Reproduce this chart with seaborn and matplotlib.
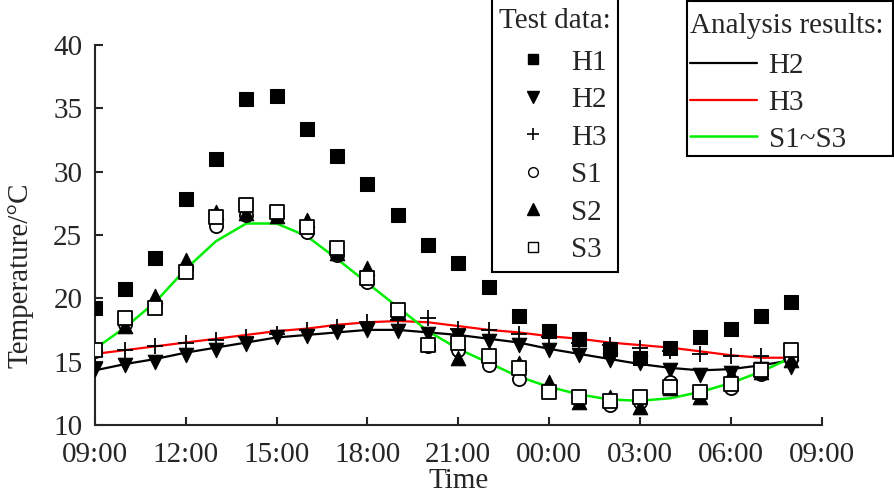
import matplotlib
matplotlib.use('Agg')
import matplotlib.pyplot as plt
from matplotlib.lines import Line2D
from matplotlib.offsetbox import DrawingArea
import seaborn as sns

# hours after 09:00 (one reading per hour)
hours = list(range(24))
tick_pos = [0, 3, 6, 9, 12, 15, 18, 21, 24]
tick_labels = ['09:00', '12:00', '15:00', '18:00', '21:00', '00:00', '03:00', '06:00', '09:00']

# test data
h1 = [19.2, 20.7, 23.2, 27.8, 31.0, 35.7, 36.0, 33.4, 31.2, 29.0, 26.6, 24.2,
      22.8, 20.9, 18.6, 17.4, 16.8, 16.0, 15.3, 16.1, 16.9, 17.6, 18.6, 19.7]
h2 = [14.4, 14.7, 15.0, 15.5, 15.9, 16.4, 16.9, 17.0, 17.3, 17.5, 17.4, 17.2,
      17.0, 16.6, 16.3, 15.9, 15.5, 15.1, 14.9, 14.3, 13.9, 14.1, 14.4, 14.6]
h3 = [15.6, 15.9, 16.2, 16.5, 16.7, 16.9, 17.2, 17.5, 17.7, 18.1, 18.3, 18.4,
      17.6, 17.5, 17.2, 16.9, 16.5, 16.3, 16.1, 15.8, 15.6, 15.4, 15.4, 15.2]
s1 = [15.8, 18.0, 19.5, 22.4, 25.7, 26.6, 26.5, 25.2, 23.4, 21.3, 18.8, 16.2,
      15.9, 14.7, 13.6, 12.8, 12.0, 11.6, 11.8, 13.4, 12.4, 12.9, 14.0, 15.3]
s2 = [16.0, 17.8, 20.2, 23.0, 26.8, 26.7, 26.5, 26.2, 23.6, 22.4, 18.9, 16.5,
      15.3, 15.5, 14.9, 13.4, 11.8, 12.2, 11.4, 12.9, 12.2, 14.0, 14.2, 15.1]
s3 = [15.9, 18.4, 19.2, 22.1, 26.4, 27.4, 26.8, 25.6, 24.0, 21.6, 19.1, 16.3,
      16.5, 15.4, 14.5, 12.6, 12.2, 11.9, 12.2, 13.0, 12.6, 13.2, 14.3, 15.9]

# analysis results
fit_h2 = [14.3, 14.8, 15.2, 15.7, 16.1, 16.5, 16.9, 17.1, 17.3, 17.5, 17.5, 17.3,
          17.1, 16.8, 16.5, 16.0, 15.6, 15.2, 14.8, 14.5, 14.3, 14.4, 14.7, 15.1]
fit_h3 = [15.6, 15.9, 16.2, 16.5, 16.8, 17.1, 17.4, 17.6, 17.9, 18.1, 18.2, 18.1,
          17.8, 17.5, 17.3, 17.0, 16.8, 16.5, 16.3, 16.1, 15.8, 15.5, 15.3, 15.3]
fit_s = [16.0, 17.7, 19.7, 22.3, 24.5, 25.9, 25.9, 24.9, 23.1, 21.2, 19.3, 17.4,
         16.0, 14.9, 13.8, 13.0, 12.4, 12.0, 11.9, 12.1, 12.6, 13.3, 14.2, 15.3]

sns.set_style('ticks')
plt.rcParams['font.family'] = ['Liberation Serif', 'DejaVu Serif', 'DejaVu Sans']
fs = 21
plt.rcParams['font.size'] = fs

fig, ax = plt.subplots(figsize=(8.95, 4.94), dpi=100)
fig.subplots_adjust(left=0.106, right=0.918, bottom=0.14, top=0.909)

# fitted curves
sns.lineplot(x=hours, y=fit_h2, color='black', linewidth=1.6, ax=ax, zorder=2)
sns.lineplot(x=hours, y=fit_h3, color='#ff0000', linewidth=1.6, ax=ax, zorder=2)
sns.lineplot(x=hours, y=fit_s, color='#00ee00', linewidth=1.8, ax=ax, zorder=2)

# measured points
sz = 90
sns.scatterplot(x=hours, y=h1, marker='s', s=sz, color='black', edgecolor='black', ax=ax, zorder=3)
sns.scatterplot(x=hours, y=h2, marker='v', s=sz * 1.2, color='black', edgecolor='black', ax=ax, zorder=3)
sns.scatterplot(x=hours, y=h3, marker='+', s=sz * 1.3, color='black', linewidth=1.3, ax=ax, zorder=3)
sns.scatterplot(x=hours, y=s1, marker='o', s=sz, facecolor='white', edgecolor='black', linewidth=1.3, ax=ax, zorder=3)
sns.scatterplot(x=hours, y=s2, marker='^', s=sz * 1.2, color='black', edgecolor='black', ax=ax, zorder=3)
sns.scatterplot(x=hours, y=s3, marker='s', s=sz, facecolor='white', edgecolor='black', linewidth=1.3, ax=ax, zorder=3)

ax.set_xlim(0, 24)
ax.set_ylim(10, 40)
ax.set_xticks(tick_pos)
ax.set_xticklabels(tick_labels)
ax.set_yticks([10, 15, 20, 25, 30, 35, 40])
ax.tick_params(direction='in', length=6, width=1.5, labelsize=fs)
ax.tick_params(axis='x', pad=12)
ax.tick_params(axis='y', pad=9)
for side in ['top', 'right']:
    ax.spines[side].set_visible(False)
for side in ['left', 'bottom']:
    ax.spines[side].set_linewidth(1.5)
ax.set_xlabel('Time', fontsize=fs, labelpad=0)
ax.set_ylabel('Temperature/°C', fontsize=fs)
ax.yaxis.set_label_coords(-0.085, 0.395)

# legends
test_handles = [
    Line2D([], [], marker='s', ls='none', color='black', markersize=7),
    Line2D([], [], marker='v', ls='none', color='black', markersize=8),
    Line2D([], [], marker='+', ls='none', color='black', markersize=8, markeredgewidth=1.2),
    Line2D([], [], marker='o', ls='none', markerfacecolor='white', markeredgecolor='black', markersize=7),
    Line2D([], [], marker='^', ls='none', color='black', markersize=8),
    Line2D([], [], marker='s', ls='none', markerfacecolor='white', markeredgecolor='black', markersize=7),
]
leg1 = fig.legend(handles=test_handles, labels=['H1', 'H2', 'H3', 'S1', 'S2', 'S3'],
                  title='Test data:', title_fontsize=fs, fontsize=fs,
                  loc='upper left', bbox_to_anchor=(492 / 895, 0, 126 / 895, 1.033),
                  mode='expand', frameon=True,
                  fancybox=False, edgecolor='black', framealpha=1,
                  handlelength=2.2, handletextpad=0.2, labelspacing=0.38,
                  borderpad=0.3, borderaxespad=0)
leg1.get_frame().set_linewidth(1.5)
leg1._legend_box.sep = 11.1
leg1._legend_box._children.insert(0, DrawingArea(1, 0))

fit_handles = [
    Line2D([], [], color='black', linewidth=1.6),
    Line2D([], [], color='#ff0000', linewidth=1.6),
    Line2D([], [], color='#00ee00', linewidth=1.8),
]
leg2 = fig.legend(handles=fit_handles, labels=['H2', 'H3', 'S1~S3'],
                  title='Analysis results:', title_fontsize=fs, fontsize=fs,
                  loc='upper left', bbox_to_anchor=(687 / 895, 0, 206 / 895, 0.998),
                  mode='expand', frameon=True,
                  fancybox=False, edgecolor='black', framealpha=1,
                  handlelength=2.3, handletextpad=0.4, labelspacing=0.36,
                  borderpad=0.1, borderaxespad=0)
leg2.get_frame().set_linewidth(1.5)
leg2._legend_box.align = 'left'
leg2._legend_box.sep = 9.9
leg2._legend_box._children.insert(0, DrawingArea(1, -3.6))

fig.savefig('out.png', dpi=100)
